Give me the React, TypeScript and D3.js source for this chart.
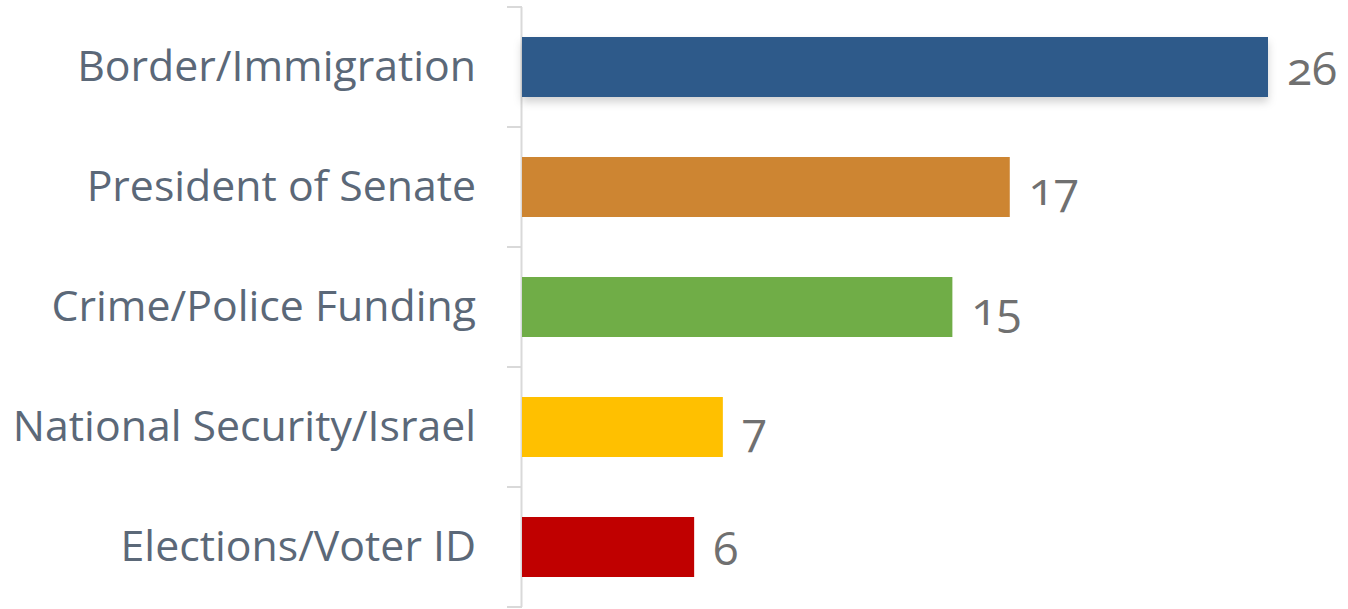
import React from "react";
import * as d3 from "d3";

const categories = [
  "Border/Immigration",
  "President of Senate",
  "Crime/Police Funding",
  "National Security/Israel",
  "Elections/Voter ID",
];
const values = [26, 17, 15, 7, 6];
const colors = ["#2e5a8a", "#cd8532", "#70ad47", "#ffc000", "#c00000"];

const W = 1348;
const H = 609;

export default function App() {
  const y = d3.scaleBand<string>().domain(categories).range([7, 607]).padding(0.5).paddingOuter(0.25);
  const x = d3.scaleLinear().domain([0, 26]).range([522, 1268]);
  const ticks = [0, 1, 2, 3, 4, 5].map((i) => 7 + i * y.step());
  return (
    <div style={{ position: "fixed", left: 0, top: 0 }}>
      <svg width={W} height={H} style={{ display: "block", background: "#fff" }}>
        <defs>
          <filter id="sh" x="-5%" y="-30%" width="110%" height="180%">
            <feDropShadow dx="0" dy="5" stdDeviation="4" floodColor="#000" floodOpacity="0.18" />
          </filter>
        </defs>
        <line x1={521.5} x2={521.5} y1={7} y2={607} stroke="#d9d9d9" strokeWidth={2} />
        {ticks.map((t, i) => (
          <line key={i} x1={507} x2={522} y1={t} y2={t} stroke="#d9d9d9" strokeWidth={2} />
        ))}
        {categories.map((c, i) => {
          const yc = (y(c) as number) + y.bandwidth() / 2;
          return (
            <g key={c}>
              <rect
                x={x(0)}
                y={y(c)}
                width={x(values[i]) - x(0)}
                height={y.bandwidth()}
                fill={colors[i]}
                filter={i === 0 ? "url(#sh)" : undefined}
              />
              <text
                x={476}
                y={yc + 14}
                textAnchor="end"
                fontFamily="'Open Sans', Lato, sans-serif"
                fontSize={42.8}
                fill="#5b6878"
              >
                {c}
              </text>
              <text
                x={x(values[i]) + 19}
                y={yc + 18}
                textAnchor="start"
                fontFamily="'Open Sans', Lato, sans-serif"
                fontSize={46}
                fill="#707070"
                style={{ fontVariantNumeric: "oldstyle-nums" }}
              >
                {values[i]}
              </text>
            </g>
          );
        })}
      </svg>
    </div>
  );
}
